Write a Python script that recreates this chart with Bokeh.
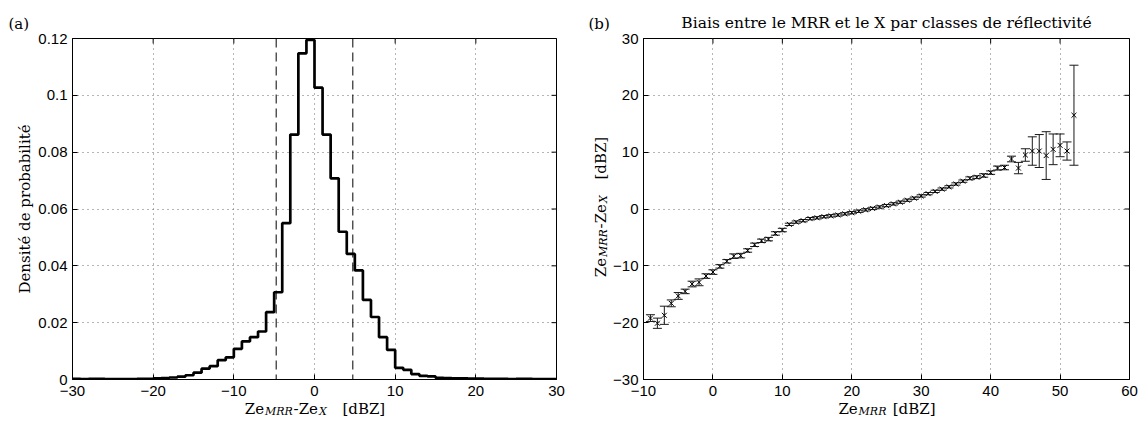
import math
from bokeh.plotting import figure
from bokeh.models import (Range1d, FixedTicker, Span, Whisker, TeeHead,
                          ColumnDataSource, GridBox)
from bokeh.layouts import row
from bokeh.core.properties import value
from bokeh.embed import file_html
from bokeh.resources import INLINE

# ---------------- data ----------------
# (a) histogram of Ze_MRR - Ze_X, 1 dBZ bins from -30 to 30
bin_edges = list(range(-30, 31))
density = [0.0002, 0.0001, 0.0002, 0.0002, 0.0001, 0.0001, 0.0001, 0.0001, 0.0002, 0.0002,
           0.0004, 0.0005, 0.0007, 0.0010, 0.0015, 0.0024, 0.0038, 0.0047, 0.0068, 0.0078,
           0.0108, 0.0134, 0.0149, 0.0169, 0.0237, 0.0307, 0.0550, 0.0862, 0.1148, 0.1195,
           0.1027, 0.0862, 0.0708, 0.0520, 0.0442, 0.0384, 0.0280, 0.0220, 0.0149, 0.0104,
           0.0041, 0.0034, 0.0019, 0.0013, 0.0011, 0.0006, 0.0005, 0.0004, 0.0004, 0.0003,
           0.0003, 0.0002, 0.0002, 0.0002, 0.0001, 0.0002, 0.0002, 0.0001, 0.0001, 0.0001]
dash_limits = [-4.75, 4.75]

# (b) bias per reflectivity class
ze_mrr = list(range(-9, 53))
bias_mean = [-19.2, -20.1, -18.7, -16.6, -15.3, -14.5, -13.2, -12.9, -11.8, -11.1,
             -10.1, -9.2, -8.3, -8.2, -7.3, -6.3, -5.6, -5.3, -4.3, -3.7,
             -2.7, -2.3, -2.05, -1.7, -1.55, -1.35, -1.2, -1.05, -0.85, -0.65,
             -0.4, -0.15, 0.1, 0.35, 0.6, 0.9, 1.2, 1.55, 1.9, 2.3,
             2.7, 3.1, 3.5, 3.9, 4.4, 4.9, 5.4, 5.6, 5.9, 6.4,
             7.2, 7.3, 8.8, 7.2, 9.5, 10.2, 10.2, 9.4, 10.5, 11.2,
             10.2, 16.5]
bias_err = [0.6, 0.9, 1.6, 0.6, 0.6, 0.4, 0.5, 0.6, 0.4, 0.4,
            0.3, 0.3, 0.4, 0.4, 0.3, 0.3, 0.3, 0.3, 0.3, 0.3,
            0.2, 0.2, 0.2, 0.2, 0.2, 0.2, 0.2, 0.2, 0.2, 0.2,
            0.2, 0.2, 0.2, 0.2, 0.2, 0.2, 0.2, 0.2, 0.2, 0.2,
            0.2, 0.2, 0.2, 0.2, 0.2, 0.2, 0.25, 0.25, 0.3, 0.3,
            0.35, 0.4, 0.5, 1.0, 1.1, 2.5, 2.9, 4.2, 2.7, 2.0,
            1.6, 8.8]

hist_xticks = [-30, -20, -10, 0, 10, 20, 30]
hist_xtick_labels = ["\u221230", "\u221220", "\u221210", "0", "10", "20", "30"]
hist_yticks = [0, 0.02, 0.04, 0.06, 0.08, 0.1, 0.12]
hist_ytick_labels = ["0", "0.02", "0.04", "0.06", "0.08", "0.1", "0.12"]
bias_xticks = [-10, 0, 10, 20, 30, 40, 50, 60]
bias_xtick_labels = ["\u221210", "0", "10", "20", "30", "40", "50", "60"]
bias_yticks = [-30, -20, -10, 0, 10, 20, 30]
bias_ytick_labels = ["\u221230", "\u221220", "\u221210", "0", "10", "20", "30"]

title_b = "Biais entre le MRR et le X par classes de réflectivité"
ylabel_a = "Densité de probabilité"

# ---------------- styling helpers ----------------
SANS = "Liberation Sans"
SERIF = "DejaVu Serif"
TICK_FS = "15px"
GRID_COLOR = "#6a6a6a"
GRID_DASH = "1 4"
TOTAL_W, TOTAL_H = 1138, 420

W = {'Z': 0.680, 'e': 0.600, '-': 0.345, '[': 0.390, ']': 0.390, 'd': 0.640,
     'B': 0.690, ' ': 0.318, 'M': 0.930, 'R': 0.770, 'X': 0.770}


def tw(s, size):
    return sum(W[c] for c in s) * size


def make_fig(width, height, xr, yr, bl, br, bt, bb):
    p = figure(width=width, height=height, x_range=Range1d(*xr), y_range=Range1d(*yr),
               output_backend="svg", toolbar_location=None, tools="",
               min_border_left=bl, min_border_right=br, min_border_top=bt,
               min_border_bottom=bb)
    p.outline_line_color = "black"
    p.outline_line_width = 1
    p.background_fill_color = "white"
    p.border_fill_color = "white"
    return p


def style_axis(ax, ticks, labels, standoff):
    ax.ticker = FixedTicker(ticks=ticks)
    ax.major_label_overrides = dict(zip(ticks, labels))
    ax.major_label_text_font = SANS
    ax.major_label_text_font_size = TICK_FS
    ax.major_label_text_color = "black"
    ax.major_label_standoff = standoff
    ax.major_tick_in = 5
    ax.major_tick_out = 0
    ax.major_tick_line_color = "black"
    ax.minor_tick_line_color = None
    ax.axis_line_color = "black"
    ax.axis_label = None


def setup_axes(p, xt, xl, yt, yl, xmax, ymax):
    style_axis(p.xaxis[0], xt, xl, 6)
    style_axis(p.yaxis[0], yt, yl, 5)
    p.xgrid.ticker = FixedTicker(ticks=xt)
    p.ygrid.ticker = FixedTicker(ticks=yt)
    for g in (p.xgrid[0], p.ygrid[0]):
        g.grid_line_color = GRID_COLOR
        g.grid_line_dash = GRID_DASH
        g.grid_line_width = 1
    # inward ticks on the top and right edges of the box (half of each dash is clipped)
    p.scatter(x=xt, y=[ymax] * len(xt), marker="dash", angle=math.pi / 2, size=10,
              line_color="black", line_width=1)
    p.scatter(x=[xmax] * len(yt), y=yt, marker="dash", size=10,
              line_color="black", line_width=1)


# ---------------- (a) histogram ----------------
# frame: x 72..556, y 38..379 (page px)
pa = make_fig(593, TOTAL_H, (-30, 30), (0, 0.12), 72, 37, 38, TOTAL_H - 379)
setup_axes(pa, hist_xticks, hist_xtick_labels, hist_yticks, hist_ytick_labels, 30, 0.12)
pa.step(x=bin_edges, y=density + [density[-1]], mode="after",
        line_color="black", line_width=2.7)
for lim in dash_limits:
    pa.add_layout(Span(location=lim, dimension="height", line_color="black",
                       line_width=1, line_dash="9 5"))

# ---------------- (b) bias ----------------
# frame: x 643..1129, y 35..379 (page px)
pb = make_fig(TOTAL_W - 593, TOTAL_H, (-10, 60), (-30, 30), 50, 9, 35, TOTAL_H - 379)
setup_axes(pb, bias_xticks, bias_xtick_labels, bias_yticks, bias_ytick_labels, 60, 30)
src = ColumnDataSource(data=dict(
    x=ze_mrr, y=bias_mean,
    upper=[m + e for m, e in zip(bias_mean, bias_err)],
    lower=[m - e for m, e in zip(bias_mean, bias_err)]))
pb.add_layout(Whisker(source=src, base="x", upper="upper", lower="lower",
                      dimension="height", line_color="#1a1a1a", line_width=1,
                      upper_head=TeeHead(size=9, line_color="#1a1a1a", line_width=1),
                      lower_head=TeeHead(size=9, line_color="#1a1a1a", line_width=1)))
pb.scatter(x="x", y="y", source=src, marker="x", size=7, line_color="black",
           line_width=1)

# ---------------- transparent overlay carrying the outer texts ----------------
ov = figure(width=TOTAL_W, height=TOTAL_H, x_range=Range1d(0, TOTAL_W),
            y_range=Range1d(0, TOTAL_H), output_backend="svg", toolbar_location=None,
            tools="", x_axis_type=None, y_axis_type=None,
            min_border_left=0, min_border_right=0, min_border_top=0, min_border_bottom=0)
ov.grid.visible = False
ov.outline_line_color = None
ov.background_fill_color = None
ov.border_fill_color = None


def otext(x, y_top, text, size, italic=False, angle=0.0, align="left"):
    ov.text(x=[x], y=[TOTAL_H - y_top], text=[text], text_font=value(SERIF),
            text_font_size=value(f"{size}px"),
            text_font_style=value("italic" if italic else "normal"),
            text_color="black", text_align=value(align),
            text_baseline=value("alphabetic"), angle=angle)


def compose(pieces, center, base):
    total = sum(tw(t, sz) + gap for t, sz, it, sh, gap in pieces)
    pos = center - total / 2.0
    for t, sz, it, sh, gap in pieces:
        pos += gap
        otext(pos, base + sh, t, sz, it)
        pos += tw(t, sz)


def compose_vertical(pieces, center_top, base_x):
    total = sum(tw(t, sz) + gap for t, sz, it, sh, gap in pieces)
    y_up = (TOTAL_H - center_top) - total / 2.0
    for t, sz, it, sh, gap in pieces:
        y_up += gap
        ov.text(x=[base_x + sh], y=[y_up], text=[t], text_font=value(SERIF),
                text_font_size=value(f"{sz}px"),
                text_font_style=value("italic" if it else "normal"),
                text_color="black", text_align=value("left"),
                text_baseline=value("alphabetic"), angle=math.pi / 2)
        y_up += tw(t, sz)


MAIN, SUB, SH = 15, 11, 3
lab_diff = [("Ze", MAIN, False, 0, 0), ("MRR", SUB, True, SH, 1),
            ("-Ze", MAIN, False, 0, 1.5), ("X", SUB, True, SH, 1),
            ("[dBZ]", MAIN, False, 0, 15)]
lab_mrr = [("Ze", MAIN, False, 0, 0), ("MRR", SUB, True, SH, 1),
           ("[dBZ]", MAIN, False, 0, 7)]

# texts, positions in page px from the top-left corner
compose(lab_diff, 314, 408)
compose(lab_mrr, 886, 408)
compose_vertical(lab_diff, 207, 600)
otext(24, 208.5, ylabel_a, 15, angle=math.pi / 2, align="center")
otext(886, 22.7, title_b, 15.5, align="center")
otext(8, 23, "(a)", 15)
otext(588, 23, "(b)", 15)

layout = GridBox(children=[(row(pa, pb), 0, 0), (ov, 0, 0)])
open("out.html", "w").write(file_html(layout, INLINE))
